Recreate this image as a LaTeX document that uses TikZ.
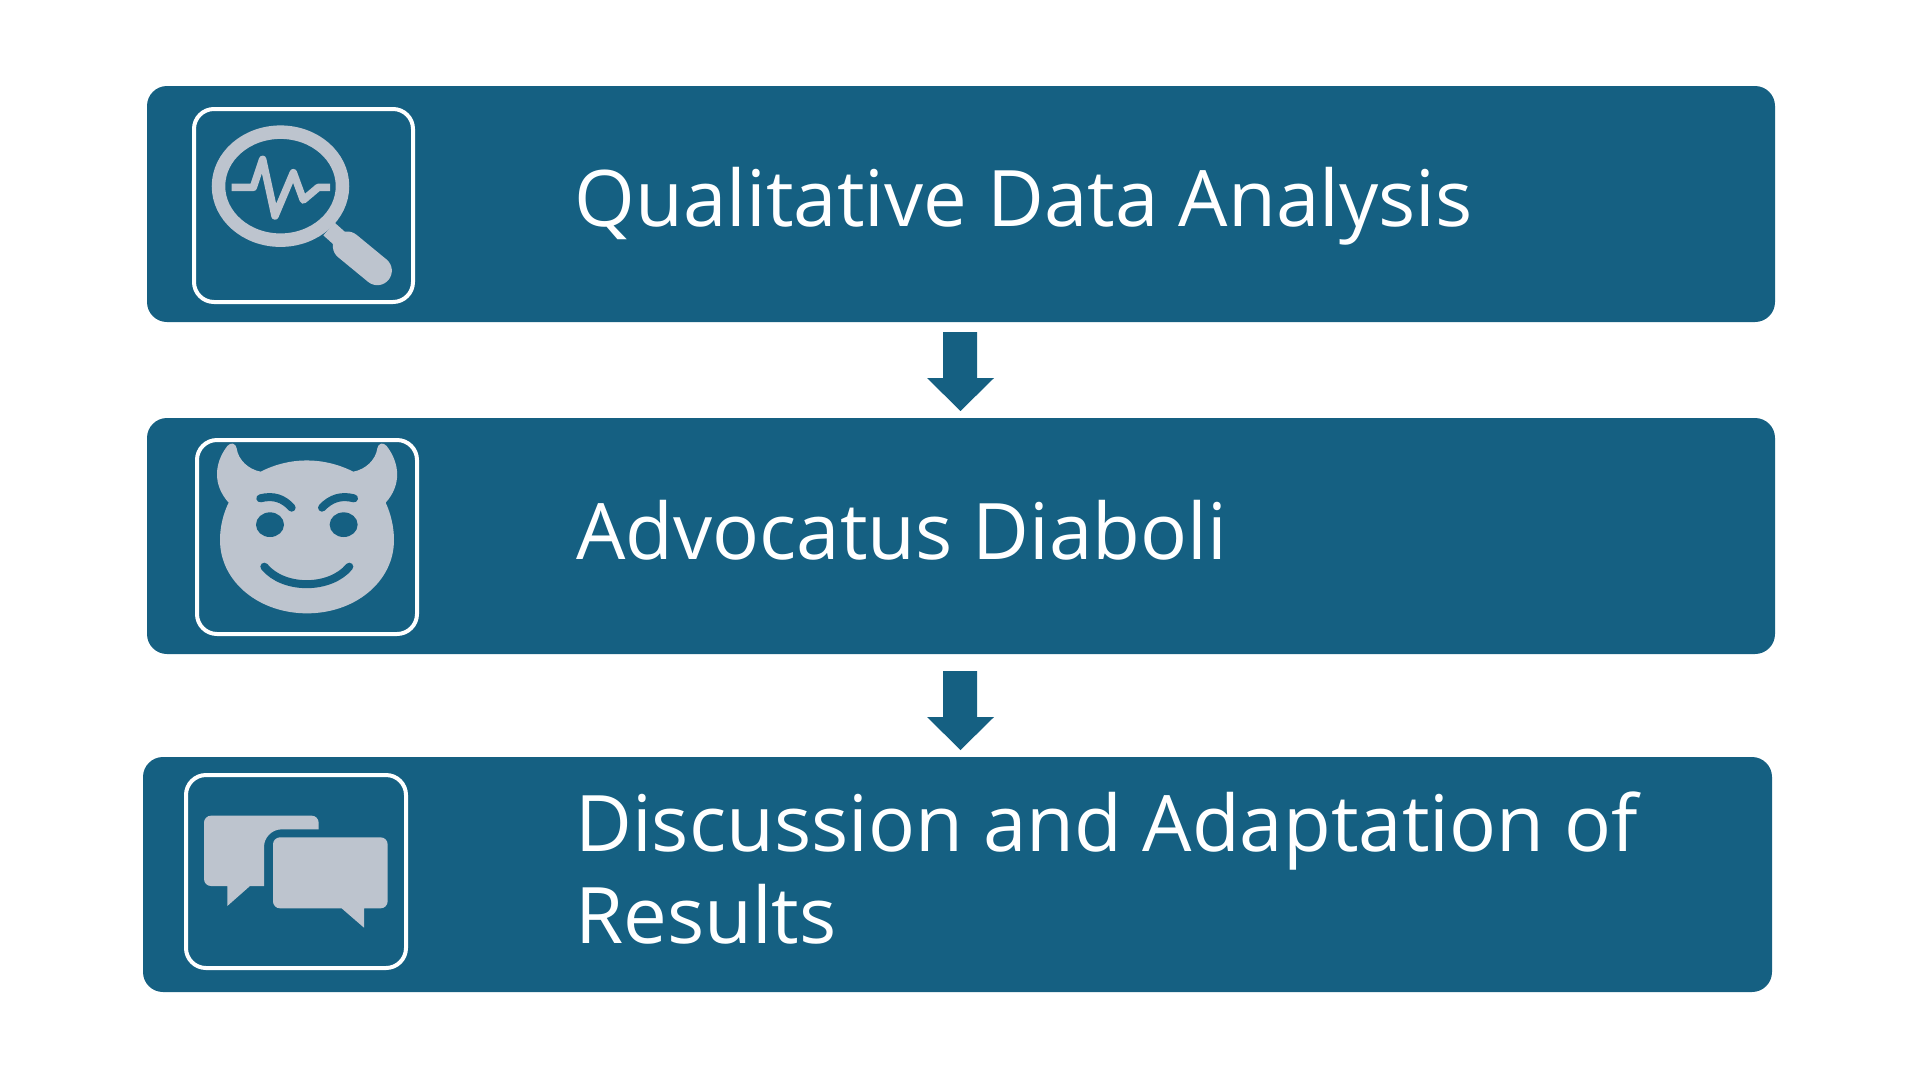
\documentclass[tikz,border=0pt]{standalone}
\usepackage{fontspec}
\setmainfont{Open Sans}
\definecolor{barblue}{HTML}{156082}
\definecolor{icongray}{HTML}{BDC4CE}
\tikzset{
  bar/.style={fill=barblue,draw=none,rounded corners=20},
  frame/.style={draw=white,line width=4,rounded corners=20},
  ico/.style={fill=icongray,draw=none},
  stroke/.style={draw=icongray,line width=7.5,line join=round},
  cut/.style={draw=barblue,line width=8,line cap=round},
  label/.style={text=white,anchor=base west,align=left,inner sep=0,font=\fontsize{78}{92}\selectfont},
  blockarrow/.style={fill=barblue,draw=none}
}
\begin{document}
\begin{tikzpicture}[x=1pt,y=-1pt]
\useasboundingbox (0,0) rectangle (1920,1080);
\fill[white] (0,0) rectangle (1920,1080);
% bars
\path[bar] (147,86) rectangle (1775,322);
\path[bar] (147,418) rectangle (1775,654);
\path[bar] (143,757) rectangle (1772,992);
% arrows
\fill[blockarrow] (943,332) -- (977,332) -- (977,378) -- (994,378) -- (960.5,411) -- (927,378) -- (943,378) -- cycle;
\fill[blockarrow] (943,671) -- (977,671) -- (977,717) -- (994,717) -- (960.5,750) -- (927,717) -- (943,717) -- cycle;
% frames
\draw[frame] (194,109) rectangle (413,302);
\draw[frame] (197,440) rectangle (417,634);
\draw[frame] (186,775) rectangle (406,968);
% magnifier
\begin{scope}[shift={(140,80)},scale=1/3]
\draw[draw=icongray,line width=13.5] (421.5,318.5) ellipse [x radius=186,y radius=162];
\draw[stroke] (275,322) -- (340,322) -- (368,238) -- (405,408) -- (460,278) -- (490,360) -- (535,322) -- (570,322);
\draw[draw=icongray,line width=17] (567,447) -- (615,490);
\draw[draw=icongray,line width=29,line cap=round] (622,498) -- (712,572);
\end{scope}
% devil
\begin{scope}[shift={(140,410)},scale=1/3]
\fill[ico] (290,115) .. controls (295,150) and (325,178) .. (362,185)
 .. controls (450,140) and (550,140) .. (640,185)
 .. controls (677,178) and (707,150) .. (712,115)
 .. controls (714,100) and (730,95) .. (740,108)
 .. controls (780,160) and (785,225) .. (737,278)
 .. controls (752,310) and (762,350) .. (762,390)
 .. controls (762,515) and (645,610) .. (501,610)
 .. controls (357,610) and (240,515) .. (240,390)
 .. controls (240,350) and (250,310) .. (266,278)
 .. controls (218,225) and (222,160) .. (262,108)
 .. controls (272,95) and (288,100) .. (290,115) -- cycle;
\fill[barblue] (390,344) ellipse [x radius=42,y radius=37];
\fill[barblue] (611,344) ellipse [x radius=42,y radius=37];
\draw[cut] (361,265) .. controls (400,255) and (430,265) .. (455,293);
\draw[cut] (642,265) .. controls (603,255) and (573,265) .. (546,293);
\draw[cut] (373,470) .. controls (430,540) and (570,540) .. (628,470);
\end{scope}
% chat
\begin{scope}[shift={(140,750)},scale=1/3]
\fill[ico] (192,300) [rounded corners=7] -- (192,197) -- (536,197) [sharp corners] -- (536,238) -- (425,238)
  .. controls (396,238) and (372,262) .. (372,291) -- (372,408) -- (330,408) -- (262,468) -- (262,408) [rounded corners=7] -- (192,408) -- cycle;
\fill[ico] (500,262) [rounded corners=7] -- (743,262) -- (743,475) [sharp corners] -- (672,475) -- (672,533) -- (605,475) [rounded corners=7] -- (399,475) -- (399,262) -- cycle;
\end{scope}
% labels
\node[label] (t1) at (574.5,226.7) {Qualitative Data Analysis};
\node[label] (t2) at (576,559.3) {Advocatus Diaboli};
\node[label] (t3) at (575,851) {Discussion and Adaptation of};
\node[label] (t4) at (575,943.3) {Results};
\end{tikzpicture}
\end{document}
